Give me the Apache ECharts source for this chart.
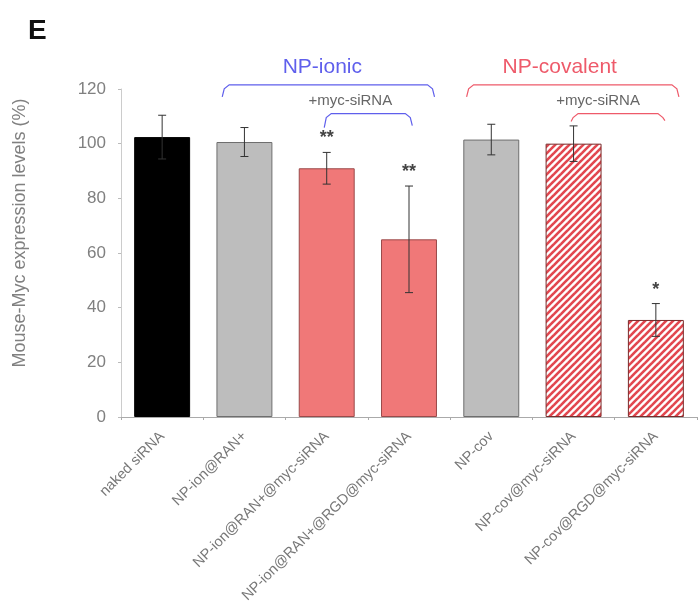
<!DOCTYPE html>
<html><head><meta charset="utf-8">
<script src="https://cdn.jsdelivr.net/npm/echarts@6/dist/echarts.min.js"></script>
<style>html,body{margin:0;padding:0;background:#fff}#c{width:698px;height:613px}</style>
</head><body><div id="c"></div>
<script>
const categories = ['naked siRNA','NP-ion@RAN+','NP-ion@RAN+@myc-siRNA','NP-ion@RAN+@RGD@myc-siRNA','NP-cov','NP-cov@myc-siRNA','NP-cov@RGD@myc-siRNA'];
const values = [102.4, 100.6, 91, 65, 101.5, 100, 35.5];
const errors = [8, 5.3, 5.8, 19.5, 5.6, 6.5, 6];
const signif = ['', '', '**', '**', '', '', '*'];
const yTicks = [0, 20, 40, 60, 80, 100, 120];
const brackets = [
  {label:'NP-ionic', from:1, to:3, level:121.5, kind:'outer', group:'ionic'},
  {label:'+myc-siRNA', from:2, to:3, level:111, kind:'inner', group:'ionic'},
  {label:'NP-covalent', from:4, to:6, level:121.5, kind:'outer', group:'cov'},
  {label:'+myc-siRNA', from:5, to:6, level:111, kind:'inner', group:'cov'}
];

function hatch(){
  const c = document.createElement('canvas');
  c.width = 7; c.height = 7;
  const g = c.getContext('2d');
  g.fillStyle = '#ffffff'; g.fillRect(0,0,7,7);
  g.strokeStyle = '#e2474f'; g.lineWidth = 2.6;
  for (let k=-1;k<=1;k++){
    g.beginPath(); g.moveTo(-1+k*7, 8); g.lineTo(8+k*7, -1); g.stroke();
  }
  return c;
}
const hatchImg = hatch();
const barStyles = [
  {color:'#000000', borderColor:'#000000', borderWidth:1},
  {color:'#bdbdbd', borderColor:'#6e6e6e', borderWidth:1},
  {color:'#f07878', borderColor:'#9a4a4a', borderWidth:1},
  {color:'#f07878', borderColor:'#9a4a4a', borderWidth:1},
  {color:'#bdbdbd', borderColor:'#6e6e6e', borderWidth:1},
  {color:{image:hatchImg, repeat:'repeat'}, borderColor:'#7a2a2a', borderWidth:1},
  {color:{image:hatchImg, repeat:'repeat'}, borderColor:'#7a2a2a', borderWidth:1}
];
// [left offset, right offset] in band widths, drop of hook ends in px, text shift in px
const bracketGeom = {
  'ionic-outer':{off:[-0.27, 0.31], drop:[12,12], tdx:-6, tdy:-18},
  'ionic-inner':{off:[-0.03, 0.04], drop:[14,12], tdx:-18, tdy:-13},
  'cov-outer':{off:[-0.30, 0.28], drop:[12,12], tdx:-13, tdy:-18},
  'cov-inner':{off:[-0.03, 0.11], drop:[8,7], tdx:-20, tdy:-13}
};
const groupColors = {ionic:'#5f5fec', cov:'#ee5a6a'};
const FONT = 'Liberation Sans';
const TXT = '#808080';

const chart = echarts.init(document.getElementById('c'));
chart.setOption({
  animation:false,
  title:{text:'E', left:23, top:12, textStyle:{fontSize:28, fontWeight:'bold', color:'#111', fontFamily:FONT}},
  grid:{left:121, right:1, top:89, bottom:196},
  xAxis:{type:'category', data:categories,
    axisLine:{lineStyle:{color:'#aaaaaa'}},
    axisTick:{show:true, length:3, lineStyle:{color:'#aaaaaa'}},
    axisLabel:{rotate:45, fontSize:14.5, color:'#777', fontFamily:FONT, margin:17}},
  yAxis:{type:'value', min:0, max:120, interval:20,
    name:'Mouse-Myc expression levels (%)', nameLocation:'middle', nameGap:92,
    nameTextStyle:{fontSize:18, color:TXT, fontFamily:FONT, padding:[0,0,0,40]},
    axisLine:{show:true, lineStyle:{color:'#cccccc'}},
    axisTick:{show:true, length:3, lineStyle:{color:'#bbbbbb'}},
    axisLabel:{fontSize:17, color:TXT, fontFamily:FONT, margin:15,
      formatter: v => yTicks.indexOf(v) >= 0 ? String(v) : ''},
    splitLine:{show:false}},
  series:[
    {type:'bar', barWidth:'68%',
     data: values.map((v,i)=>({value:v, itemStyle:barStyles[i]}))},
    {type:'custom', z:5,
     data: values.map((v,i)=>[i, v, errors[i]]),
     renderItem:(params, api)=>{
       const i = api.value(0), v = api.value(1), e = api.value(2);
       const top = api.coord([i, v+e]), bot = api.coord([i, v-e]);
       const cw = 4;
       const ls = {stroke:'#333', lineWidth:1};
       const children = [
         {type:'line', shape:{x1:top[0], y1:top[1], x2:bot[0], y2:bot[1]}, style:ls},
         {type:'line', shape:{x1:top[0]-cw, y1:top[1], x2:top[0]+cw, y2:top[1]}, style:ls},
         {type:'line', shape:{x1:bot[0]-cw, y1:bot[1], x2:bot[0]+cw, y2:bot[1]}, style:ls}
       ];
       if (signif[i]) children.push({type:'text', x:top[0], y:top[1]-14,
         style:{text:signif[i], fill:'#444', font:'bold 18px Liberation Sans', align:'center', verticalAlign:'middle'}});
       return {type:'group', children};
     }},
    {type:'custom', z:5, clip:false,
     data: brackets.map((b,k)=>[b.from, b.to, b.level, k]),
     renderItem:(params, api)=>{
       const b = brackets[api.value(3)];
       const g = bracketGeom[b.group+'-'+b.kind];
       const bw = api.size([1,0])[0];
       const p1 = api.coord([b.from, b.level]), p2 = api.coord([b.to, b.level]);
       const x1 = p1[0] + g.off[0]*bw, x2 = p2[0] + g.off[1]*bw, y = p1[1];
       const col = groupColors[b.group];
       const pts = [[x1, y+g.drop[0]],[x1+2, y+4],[x1+7, y],[x2-7, y],[x2-2, y+4],[x2, y+g.drop[1]]];
       const children = [{type:'polyline', shape:{points:pts}, style:{stroke:col, lineWidth:1.2, fill:null}}];
       const outer = b.kind==='outer';
       children.push({type:'text', x:(x1+x2)/2 + g.tdx, y: y + g.tdy,
         style:{text:b.label, fill: outer?col:'#666', font: (outer?'21px ':'15px ')+FONT, align:'center', verticalAlign:'middle'}});
       return {type:'group', children};
     }}
  ]
});
</script></body></html>
